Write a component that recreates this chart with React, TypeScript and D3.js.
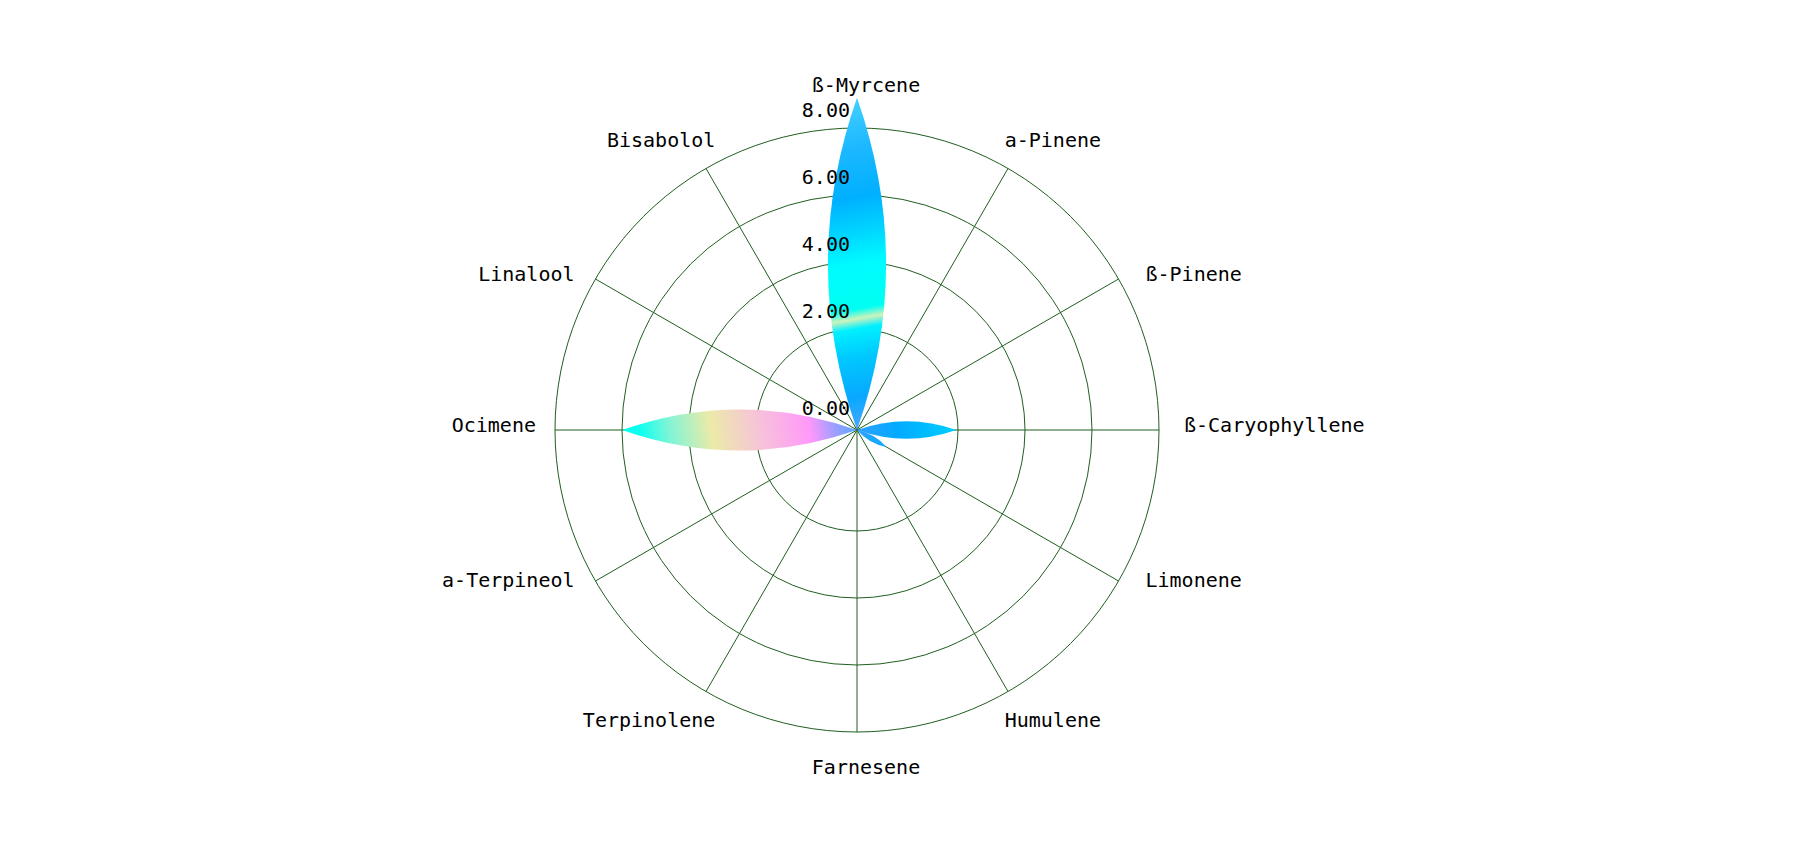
import * as d3 from "d3";
import React from "react";

// terpene profile, clockwise from the top
const terpenes = [
  "ß-Myrcene", "a-Pinene", "ß-Pinene", "ß-Caryophyllene", "Limonene", "Humulene",
  "Farnesene", "Terpinolene", "a-Terpineol", "Ocimene", "Linalool", "Bisabolol",
];
const amounts: (number | null)[] = [8.9, null, null, 1.95, 0, null, null, null, null, 6.0, null, null];
const radialTicks = [0, 2, 4, 6, 8];

// gradient stops per petal, base (0) to tip (1)
const myrceneStops: [number, string][] = [
  [0, "#4aa8ff"], [0.1, "#08a8ff"], [0.22, "#00c8ff"], [0.305, "#00f0ff"], [0.335, "#cdf2bc"],
  [0.365, "#00fff2"], [0.5, "#00fbff"], [0.6, "#00d4ff"], [0.7, "#00b0ff"], [0.85, "#1cb8ff"], [1, "#44d0ff"],
];
const caryophylleneStops: [number, string][] = [[0, "#30a0ff"], [0.4, "#04aaff"], [0.7, "#00bcff"], [1, "#00d0ff"]];
const limoneneStops: [number, string][] = [[0, "#2aa4ff"], [1, "#10aaff"]];
const ocimeneStops: [number, string][] = [
  [0, "#5aa8ff"], [0.1, "#a09eff"], [0.2, "#ff98fa"], [0.42, "#f6c4d8"], [0.62, "#eceaa8"],
  [0.8, "#7ff5d6"], [0.92, "#10fff0"], [1, "#00ffee"],
];
const petalStops: Record<string, [number, string][]> = {
  "ß-Myrcene": myrceneStops,
  "ß-Caryophyllene": caryophylleneStops,
  "Limonene": limoneneStops,
  "Ocimene": ocimeneStops,
};

const W = 1800, H = 848;
const cx = 857, cy = 430;
const inner = 34, outer = 302;
const grid = "#1f5e1f";
const font = "'DejaVu Sans Mono', monospace";

const App: React.FC = () => {
  const angle = d3.scaleBand<string>().domain(terpenes).range([0, 2 * Math.PI]);
  const r = d3.scaleLinear().domain([0, 8]).range([inner, outer]);

  const petals = terpenes
    .map((name, i) => ({ name, value: amounts[i], i }))
    .filter(d => d.value !== null) as { name: string, value: number, i: number }[];

  const petalPath = (len: number) => {
    const w = len * 0.175;
    return `M0,0Q${w},${-len / 2} 0,${-len}Q${-w},${-len / 2} 0,0Z`;
  };

  return (
    <svg width={W} height={H} style={{ position: "absolute", left: 0, top: 0, display: "block" }}>
      <defs>
        {petals.map(d => (
          <linearGradient key={d.name} id={`petal-${d.i}`} x1="0.515" y1="1" x2="0.485" y2="0">
            {(petalStops[d.name] || limoneneStops).map(([o, c], k) => (
              <stop key={k} offset={o} stopColor={c} />
            ))}
          </linearGradient>
        ))}
      </defs>
      <g transform={`translate(${cx},${cy})`}>
        {radialTicks.filter(t => t > 0).map(t => (
          <circle key={t} r={r(t)} fill="none" stroke={grid} strokeWidth={1} />
        ))}
        {terpenes.map(name => {
          const a = angle(name)!;
          return <line key={name} x1={0} y1={0} x2={outer * Math.sin(a)} y2={-outer * Math.cos(a)} stroke={grid} strokeWidth={1} />;
        })}
        {petals.map(d => (
          <path key={d.name} d={petalPath(r(d.value))} fill={`url(#petal-${d.i})`}
            transform={`rotate(${(angle(d.name)! * 180) / Math.PI})`} />
        ))}
        {radialTicks.map(t => (
          <text key={t} x={-7} y={-((t === 0 ? 4 : r(t)) + 11)} textAnchor="end"
            fontFamily={font} fontSize={20} fill="#000">{d3.format(".2f")(t)}</text>
        ))}
        <g transform="translate(3,0)">
          {terpenes.map(name => {
            const t = angle(name)!;
            // labels drift a little towards the axes
            const a = t - 0.053 * Math.sin(4 * t) - 0.017 * Math.sin(2 * t);
            const lr = outer + 22;
            const x = lr * Math.sin(a), y = -lr * Math.cos(a);
            const s = Math.sin(a);
            const anchor = s > 0.01 ? "start" : s < -0.01 ? "end" : "middle";
            const dy = anchor === "middle"
              ? (Math.cos(a) > 0 ? "-0.7em" : "1em")
              : `${0.35 - 0.25 * Math.pow(s, 4)}em`;
            return (
              <text key={name} x={x} y={y} dx={anchor === "middle" ? "0.3em" : 0} dy={dy} textAnchor={anchor}
                fontFamily={font} fontSize={20} fill="#000">{name}</text>
            );
          })}
        </g>
      </g>
    </svg>
  );
};

export default App;
